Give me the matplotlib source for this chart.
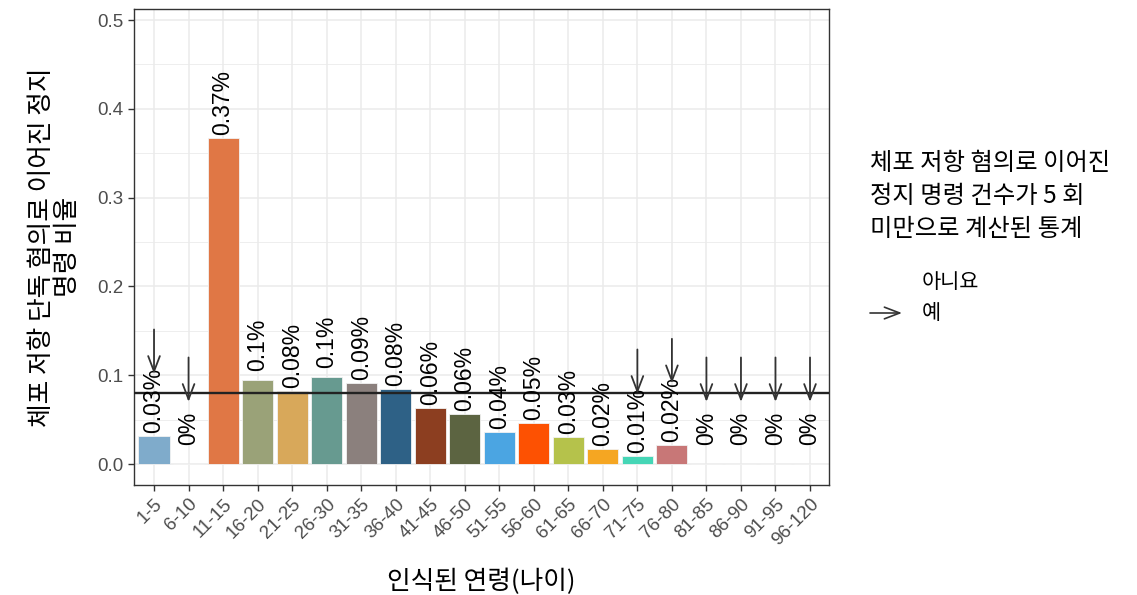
import matplotlib
matplotlib.use("Agg")
import matplotlib.pyplot as plt
import numpy as np

plt.rcParams['font.family'] = ['Liberation Sans', 'Noto Sans CJK KR', 'DejaVu Sans']

# age groups and share of stops that ended in a lone resisting-arrest charge
ages = ['1-5', '6-10', '11-15', '16-20', '21-25', '26-30', '31-35', '36-40',
        '41-45', '46-50', '51-55', '56-60', '61-65', '66-70', '71-75', '76-80',
        '81-85', '86-90', '91-95', '96-120']
share = [0.0315, 0.0, 0.367, 0.0946, 0.082, 0.098, 0.091, 0.0845,
         0.063, 0.056, 0.036, 0.046, 0.030, 0.017, 0.009, 0.021,
         0.0, 0.0, 0.0, 0.0]
labels = ['0.03%', '0%', '0.37%', '0.1%', '0.08%', '0.1%', '0.09%', '0.08%',
          '0.06%', '0.06%', '0.04%', '0.05%', '0.03%', '0.02%', '0.01%', '0.02%',
          '0%', '0%', '0%', '0%']
# fewer than 5 stops counted
small_n = [True, True, False, False, False, False, False, False,
           False, False, False, False, False, False, True, True,
           True, True, True, True]
overall = 0.08

colors = ['#7fabcb', '#ffffff', '#e07745', '#9aa278', '#d8a85a', '#679a90',
          '#8b807d', '#2e6186', '#8c3e20', '#5c6441', '#4ba5e2', '#fd5102',
          '#b5c24b', '#f5a622', '#45d6b6', '#c87777', '#ffffff', '#ffffff',
          '#ffffff', '#ffffff']

KR = ['Noto Sans CJK KR']
arrow_style = '->,head_length=1.1,head_width=0.42'

fig = plt.figure(figsize=(11.37, 5.95), dpi=100)
ax = fig.add_axes([134/1137, 1-485/595, (829-134)/1137, (485-9)/595])

x = np.arange(len(ages))
ax.bar(x, share, width=0.9, color=colors, edgecolor='#f2f2f2', linewidth=0.6, zorder=2)
ax.axhline(overall, color='#222222', lw=1.7, zorder=4)

for i, v in enumerate(share):
    ax.text(i, v + 0.04, labels[i], rotation=90, ha='center', va='center',
            fontsize=16.5, color='black', zorder=5)
    if small_n[i]:
        ax.annotate('', xy=(i, v + 0.07), xytext=(i, v + 0.12),
                    arrowprops=dict(arrowstyle=arrow_style,
                                    color='#333333', lw=1.3, shrinkA=0, shrinkB=0),
                    zorder=6)

ax.set_xlim(-0.58, 19.55)
ax.set_ylim(-0.0236, 0.5124)
ax.set_yticks([0, 0.1, 0.2, 0.3, 0.4, 0.5])
ax.set_yticklabels(['0.0', '0.1', '0.2', '0.3', '0.4', '0.5'])
ax.set_yticks([0.05, 0.15, 0.25, 0.35, 0.45], minor=True)
ax.set_xticks(x)
ax.set_xticklabels(ages, rotation=45, ha='right', rotation_mode='anchor')
ax.tick_params(axis='both', which='major', colors='#333333', labelcolor='#4d4d4d',
               labelsize=13.5, length=4, width=1)
ax.tick_params(axis='y', which='minor', length=0)
ax.grid(which='major', color='#ebebeb', lw=1.1, zorder=0)
ax.grid(which='minor', axis='y', color='#ebebeb', lw=0.6, zorder=0)
ax.set_axisbelow(True)
for s in ax.spines.values():
    s.set_color('#333333')
    s.set_linewidth(1)

ax.set_ylabel('체포 저항 단독 혐의로 이어진 정지\n명령 비율', fontsize=18.5,
              family=KR, labelpad=12, linespacing=1.0)
ax.set_xlabel('인식된 연령(나이)', fontsize=18.5, family=KR, labelpad=14)

# legend
fig.text(870/1137, 1-150/595, '체포 저항 혐의로 이어진\n정지 명령 건수가 5 회\n미만으로 계산된 통계',
         fontsize=17.5, family=KR, va='top', ha='left', linespacing=1.34)
fig.text(922/1137, 1-282/595, '아니요', fontsize=15, family=KR,
         va='center', ha='left')
fig.text(922/1137, 1-313/595, '예', fontsize=15, family=KR,
         va='center', ha='left')
fig.patches.append(matplotlib.patches.FancyArrowPatch(
    (870/1137, 1-313/595), (902/1137, 1-313/595), transform=fig.transFigure,
    arrowstyle=arrow_style, mutation_scale=10, color='#333333', lw=1.2,
    shrinkA=0, shrinkB=0))

fig.savefig('out.png', dpi=100)
